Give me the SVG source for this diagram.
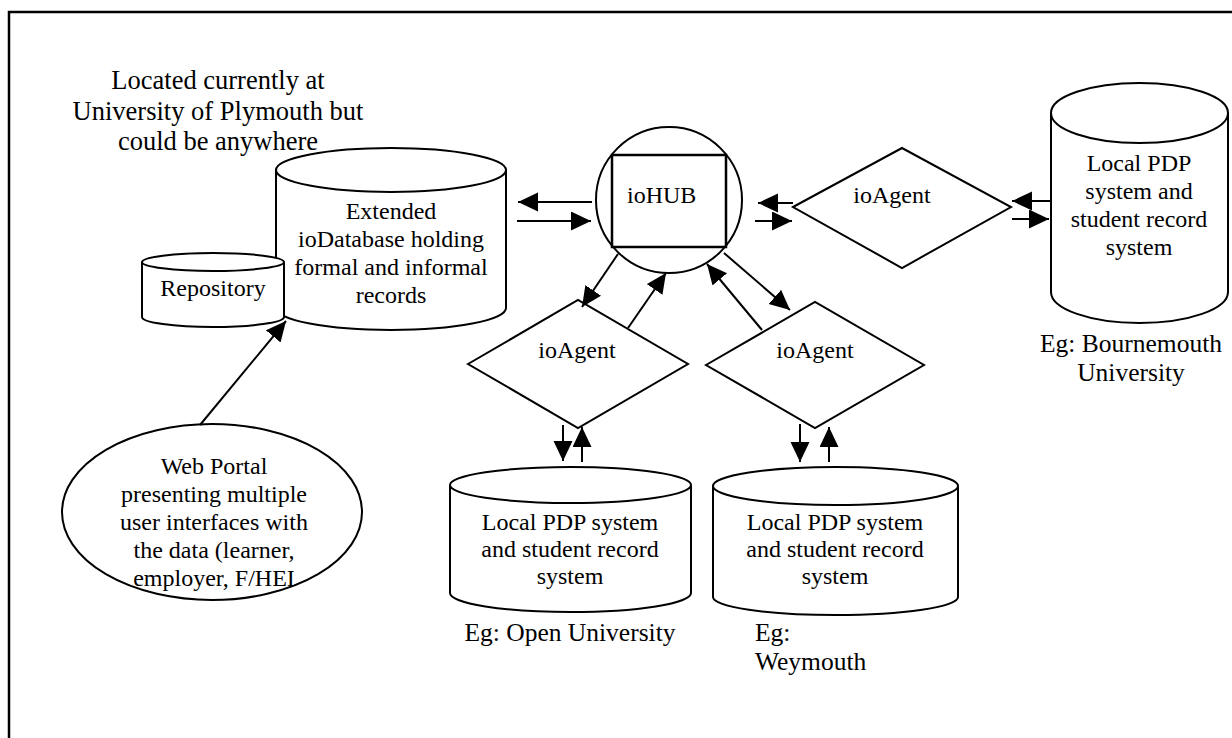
<svg xmlns="http://www.w3.org/2000/svg" width="1232" height="738" viewBox="0 0 1232 738">
<defs>
<marker id="ah" markerUnits="userSpaceOnUse" markerWidth="20" markerHeight="20" refX="20" refY="9.5" orient="auto">
<path d="M0,0 L20,9.5 L0,19 Z" fill="#000"/>
</marker>
<style>
.s{fill:#fff;stroke:#000;stroke-width:2}
.o{fill:none;stroke:#000;stroke-width:2}
.c{fill:none;stroke:#000;stroke-width:2;marker-end:url(#ah)}
text{font-family:"Liberation Serif","Times New Roman",serif;font-size:24px;fill:#000}
.m{text-anchor:middle}
.big{font-size:26.5px}
.eg{font-size:25.5px}
</style>
</defs>
<rect width="1232" height="738" fill="#fff"/>
<path d="M9,738 L9,12 L1232,12" fill="none" stroke="#000" stroke-width="2.5"/>

<g id="label-location">
<text class="m big" x="218" y="89">Located currently at</text>
<text class="m big" x="218" y="119.5">University of Plymouth but</text>
<text class="m big" x="218" y="150">could be anywhere</text>
</g>

<g id="iodatabase">
<path class="s" d="M276,170 A115,22 0 0 1 506,170 L506,308 A115,22 0 0 1 276,308 Z"/>
<path class="o" d="M276,170 A115,22 0 0 0 506,170"/>
<text class="m" x="391" y="219">Extended</text>
<text class="m" x="391" y="247">ioDatabase holding</text>
<text class="m" x="391" y="275">formal and informal</text>
<text class="m" x="391" y="303">records</text>
</g>

<g id="repository">
<path class="s" d="M142,262 A71,9 0 0 1 284,262 L284,317 A71,10 0 0 1 142,317 Z"/>
<path class="o" d="M142,262 A71,9 0 0 0 284,262"/>
<text class="m" x="213" y="296">Repository</text>
</g>

<g id="webportal">
<ellipse class="s" cx="212" cy="512" rx="150" ry="88"/>
<text class="m" x="214" y="474">Web Portal</text>
<text class="m" x="214" y="502">presenting multiple</text>
<text class="m" x="214" y="530">user interfaces with</text>
<text class="m" x="214" y="558">the data (learner,</text>
<text class="m" x="214" y="586">employer, F/HEI</text>
</g>

<g id="iohub">
<circle class="s" cx="669" cy="200" r="73"/>
<rect x="612" y="155" width="114" height="92" fill="none" stroke="#000" stroke-width="2.5"/>
<text x="627" y="203">ioHUB</text>
</g>

<g id="ioagent-right">
<polygon class="s" points="793,207 902,148 1011,207 902,268"/>
<text class="m" x="892" y="203">ioAgent</text>
</g>

<g id="ioagent-left">
<polygon class="s" points="468,364 578,300 688,364 578,428"/>
<text class="m" x="577" y="358">ioAgent</text>
</g>

<g id="ioagent-mid">
<polygon class="s" points="706,365 815,302 924,365 815,428"/>
<text class="m" x="815" y="358">ioAgent</text>
</g>

<g id="pdp-bournemouth">
<path class="s" d="M1051,113 A88.5,30 0 0 1 1228,113 L1228,292 A88.5,31 0 0 1 1051,292 Z"/>
<path class="o" d="M1051,113 A88.5,30 0 0 0 1228,113"/>
<text class="m" x="1139" y="171">Local PDP</text>
<text class="m" x="1139" y="199">system and</text>
<text class="m" x="1139" y="227">student record</text>
<text class="m" x="1139" y="255">system</text>
</g>
<g id="label-bournemouth">
<text class="m eg" x="1131" y="352">Eg: Bournemouth</text>
<text class="m eg" x="1131" y="381">University</text>
</g>

<g id="pdp-open">
<path class="s" d="M450,485 A120.5,18 0 0 1 691,485 L691,593 A120.5,19 0 0 1 450,593 Z"/>
<path class="o" d="M450,485 A120.5,18 0 0 0 691,485"/>
<text class="m" x="570" y="530">Local PDP system</text>
<text class="m" x="570" y="557">and student record</text>
<text class="m" x="570" y="584">system</text>
</g>
<g id="label-open">
<text class="m eg" x="570" y="641">Eg: Open University</text>
</g>

<g id="pdp-weymouth">
<path class="s" d="M713,486 A122.5,19 0 0 1 958,486 L958,597 A122.5,18 0 0 1 713,597 Z"/>
<path class="o" d="M713,486 A122.5,19 0 0 0 958,486"/>
<text class="m" x="835" y="530">Local PDP system</text>
<text class="m" x="835" y="557">and student record</text>
<text class="m" x="835" y="584">system</text>
</g>
<g id="label-weymouth">
<text class="eg" x="755" y="641">Eg:</text>
<text class="eg" x="755" y="670">Weymouth</text>
</g>

<g id="connectors">
<line class="c" x1="592" y1="202" x2="518" y2="202"/>
<line class="c" x1="517" y1="221" x2="591" y2="221"/>
<line class="c" x1="793" y1="203" x2="758" y2="203"/>
<line class="c" x1="755" y1="221" x2="792" y2="221"/>
<line class="c" x1="1050" y1="201" x2="1012" y2="201"/>
<line class="c" x1="1012" y1="219" x2="1049" y2="219"/>
<line class="c" x1="618" y1="254" x2="582" y2="307"/>
<line class="c" x1="628" y1="328" x2="666" y2="273"/>
<line class="c" x1="762" y1="330" x2="707" y2="264"/>
<line class="c" x1="724" y1="253" x2="790" y2="310"/>
<line class="c" x1="563" y1="425" x2="563" y2="461"/>
<line class="c" x1="582" y1="462" x2="582" y2="427"/>
<line class="c" x1="800" y1="424" x2="800" y2="462"/>
<line class="c" x1="829" y1="462" x2="829" y2="427"/>
<line class="c" x1="200" y1="425" x2="286" y2="321"/>
</g>
</svg>
